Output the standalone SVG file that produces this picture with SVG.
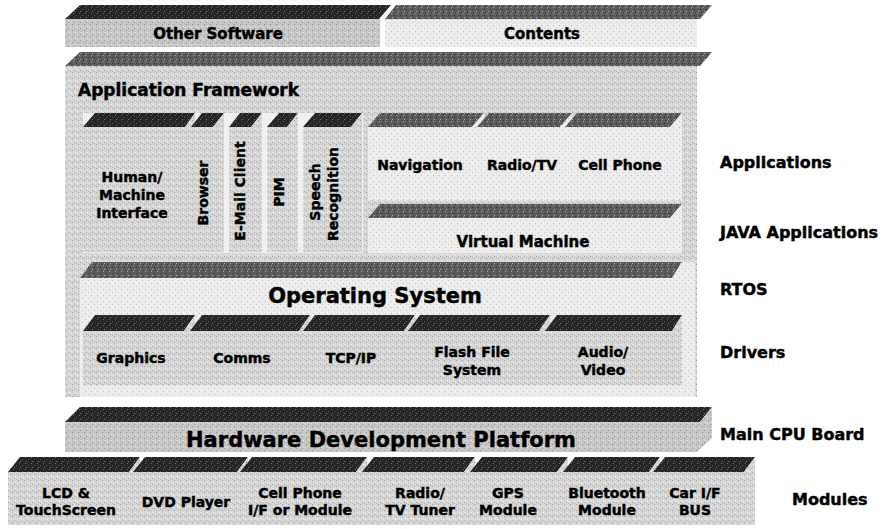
<svg xmlns="http://www.w3.org/2000/svg" width="890" height="529" viewBox="0 0 890 529">
<defs>
<pattern id="pf" width="6" height="6" patternUnits="userSpaceOnUse">
<rect width="6" height="6" fill="#d6d6d6"/>
<rect x="0" y="0" width="1" height="1" fill="#9c9c9c"/>
<rect x="3" y="2" width="1" height="1" fill="#f6f6f6"/>
<rect x="2" y="4" width="1" height="1" fill="#a8a8a8"/>
<rect x="5" y="3" width="1" height="1" fill="#f2f2f2"/>
<rect x="4" y="5" width="1" height="1" fill="#b4b4b4"/>
</pattern>
<pattern id="pl" width="6" height="6" patternUnits="userSpaceOnUse">
<rect width="6" height="6" fill="#ececec"/>
<rect x="1" y="1" width="1" height="1" fill="#b8b8b8"/>
<rect x="4" y="4" width="1" height="1" fill="#c4c4c4"/>
<rect x="3" y="0" width="1" height="1" fill="#fafafa"/>
</pattern>
<pattern id="pd" width="6" height="6" patternUnits="userSpaceOnUse">
<rect width="6" height="6" fill="#c6c6c6"/>
<rect x="0" y="0" width="1" height="1" fill="#8a8a8a"/>
<rect x="3" y="2" width="1" height="1" fill="#eeeeee"/>
<rect x="2" y="4" width="1" height="1" fill="#969696"/>
<rect x="5" y="3" width="1" height="1" fill="#e6e6e6"/>
</pattern>
<pattern id="pt" width="6" height="6" patternUnits="userSpaceOnUse">
<rect width="6" height="6" fill="#262626"/>
<rect x="1" y="1" width="1" height="1" fill="#6a6a6a"/>
<rect x="4" y="3" width="1" height="1" fill="#555555"/>
<rect x="2" y="5" width="1" height="1" fill="#7a7a7a"/>
</pattern>
<pattern id="pm" width="6" height="6" patternUnits="userSpaceOnUse">
<rect width="6" height="6" fill="#5c5c5c"/>
<rect x="1" y="1" width="1" height="1" fill="#a0a0a0"/>
<rect x="4" y="3" width="1" height="1" fill="#2a2a2a"/>
<rect x="2" y="5" width="1" height="1" fill="#b0b0b0"/>
<rect x="5" y="0" width="1" height="1" fill="#333333"/>
</pattern>
<style>
.tp{fill:url(#pt)}
.tm{fill:url(#pm)}
.ff{fill:url(#pf)}
.fl{fill:url(#pl)}
.fd{fill:url(#pd)}
text{font-family:"DejaVu Sans","Liberation Sans",sans-serif;font-weight:bold;fill:#000;stroke:#000;stroke-width:0.45px}
.c{text-anchor:middle}
.s14{font-size:14px}
.s15{font-size:15px}
.s16{font-size:16px}
.s17{font-size:17px}
.s21{font-size:21px}
</style>
</defs>
<rect width="890" height="529" fill="#ffffff"/>

<g id="other-software">
<polygon class="tp" points="80,5 391,5 379,19 65,19"/>
<rect class="fd" x="65" y="19" width="315" height="28"/>
<text class="c s15" x="218" y="39">Other Software</text>
</g>

<g id="contents">
<polygon class="tm" points="396,5 712,5 700,19 385,19"/>
<rect class="fl" x="385" y="19" width="312" height="28"/>
<text class="c s15" x="542" y="39">Contents</text>
</g>

<g id="application-framework">
<polygon class="tm" points="80,52 712,52 700,66 65,66"/>
<rect class="ff" x="65" y="66" width="632" height="331"/>
<rect fill="#f0f0f0" x="83" y="113" width="280" height="140"/>
<text class="s17" x="78" y="96">Application Framework</text>
</g>

<g id="hmi">
<polygon class="tp" points="95,113 195,113 185,127 83,127"/>
<polygon class="ff" points="83,127 185,127 195,113 195,252 83,252"/>
<text class="c s14" x="132" y="182">Human/</text>
<text class="c s14" x="132" y="200">Machine</text>
<text class="c s14" x="132" y="218">Interface</text>
</g>

<g id="browser">
<polygon class="tp" points="202,113 224,113 213,127 191,127"/>
<polygon class="ff" points="191,127 213,127 224,113 224,252 191,252"/>
<text class="c s14" transform="translate(208,193) rotate(-90)">Browser</text>
</g>

<g id="email">
<polygon class="tp" points="240,113 262,113 251,127 229,127"/>
<polygon class="ff" points="229,127 251,127 262,113 262,252 229,252"/>
<text class="c s14" transform="translate(245,191) rotate(-90)">E-Mail Client</text>
</g>

<g id="pim">
<polygon class="tp" points="279,113 298,113 287,127 267,127"/>
<polygon class="ff" points="267,127 287,127 298,113 298,252 267,252"/>
<text class="c s14" transform="translate(284,192) rotate(-90)">PIM</text>
</g>

<g id="speech">
<polygon class="tp" points="315,113 362,113 351,127 303,127"/>
<polygon class="ff" points="303,127 351,127 362,113 362,252 303,252"/>
<text class="c s14" transform="translate(320,192) rotate(-90)">Speech</text>
<text class="c s14" transform="translate(338,194) rotate(-90)">Recognition</text>
</g>

<g id="navigation">
<polygon class="tm" points="380,113 484,113 472,127 368,127"/>
<polygon class="fl" points="368,127 472,127 484,113 484,200 368,200"/>
<text class="c s14" x="420" y="170">Navigation</text>
</g>

<g id="radio-tv">
<polygon class="tm" points="489,113 572,113 560,127 477,127"/>
<polygon class="fl" points="477,127 560,127 572,113 572,200 477,200"/>
<text class="c s14" x="522" y="170">Radio/TV</text>
</g>

<g id="cell-phone">
<polygon class="tm" points="577,113 682,113 670,127 565,127"/>
<polygon class="fl" points="565,127 670,127 682,113 682,200 565,200"/>
<text class="c s14" x="620" y="170">Cell Phone</text>
</g>

<g id="virtual-machine">
<polygon class="tm" points="380,204 682,204 670,218 368,218"/>
<polygon class="fl" points="368,218 670,218 682,204 682,253 368,253"/>
<text class="c s15" x="523" y="247">Virtual Machine</text>
</g>

<g id="operating-system">
<polygon class="tm" points="92,262 682,262 672,278 80,278"/>
<polygon class="fl" points="80,278 672,278 682,262 695,262 695,397 80,397"/>
<text class="c s21" x="375" y="303">Operating System</text>
</g>

<g id="graphics">
<polygon class="tp" points="95,315 195,315 184,331 83,331"/>
<polygon class="ff" points="83,331 184,331 195,315 195,385 83,385"/>
<text class="c s14" x="131" y="363">Graphics</text>
</g>

<g id="comms">
<polygon class="tp" points="202,315 310,315 299,331 190,331"/>
<polygon class="ff" points="190,331 299,331 310,315 310,385 190,385"/>
<text class="c s14" x="242" y="363">Comms</text>
</g>

<g id="tcpip">
<polygon class="tp" points="315,315 415,315 404,331 303,331"/>
<polygon class="ff" points="303,331 404,331 415,315 415,385 303,385"/>
<text class="c s14" x="351" y="363">TCP/IP</text>
</g>

<g id="flash">
<polygon class="tp" points="420,315 550,315 539,331 408,331"/>
<polygon class="ff" points="408,331 539,331 550,315 550,385 408,385"/>
<text class="c s14" x="472" y="357">Flash File</text>
<text class="c s14" x="472" y="375">System</text>
</g>

<g id="audio-video">
<polygon class="tp" points="557,315 682,315 672,331 545,331"/>
<polygon class="ff" points="545,331 672,331 682,315 682,385 545,385"/>
<text class="c s14" x="603" y="357">Audio/</text>
<text class="c s14" x="603" y="375">Video</text>
</g>

<g id="hardware-platform">
<polygon class="tp" points="80,407 712,407 700,422 65,422"/>
<polygon class="fd" points="65,422 700,422 712,407 712,438 697,452 65,452"/>
<text class="c s21" x="381" y="447">Hardware Development Platform</text>
</g>

<g id="lcd">
<polygon class="tp" points="20,457 140,457 129,472 8,472"/>
<polygon class="ff" points="8,472 129,472 140,457 140,525 8,525"/>
<text class="c s14" x="66" y="498">LCD &amp;</text>
<text class="c s14" x="66" y="515">TouchScreen</text>
</g>

<g id="dvd">
<polygon class="tp" points="145,457 248,457 237,472 133,472"/>
<polygon class="ff" points="133,472 237,472 248,457 248,525 133,525"/>
<text class="c s14" x="186" y="507">DVD Player</text>
</g>

<g id="cell-module">
<polygon class="tp" points="252,457 367,457 356,472 240,472"/>
<polygon class="ff" points="240,472 356,472 367,457 367,525 240,525"/>
<text class="c s14" x="300" y="498">Cell Phone</text>
<text class="c s14" x="300" y="515">I/F or Module</text>
</g>

<g id="radio-tuner">
<polygon class="tp" points="374,457 475,457 464,472 362,472"/>
<polygon class="ff" points="362,472 464,472 475,457 475,525 362,525"/>
<text class="c s14" x="420" y="498">Radio/</text>
<text class="c s14" x="420" y="515">TV Tuner</text>
</g>

<g id="gps">
<polygon class="tp" points="482,457 568,457 557,472 470,472"/>
<polygon class="ff" points="470,472 557,472 568,457 568,525 470,525"/>
<text class="c s14" x="508" y="498">GPS</text>
<text class="c s14" x="508" y="515">Module</text>
</g>

<g id="bluetooth">
<polygon class="tp" points="575,457 660,457 649,472 563,472"/>
<polygon class="ff" points="563,472 649,472 660,457 660,525 563,525"/>
<text class="c s14" x="607" y="498">Bluetooth</text>
<text class="c s14" x="607" y="515">Module</text>
</g>

<g id="car-bus">
<polygon class="tp" points="665,457 755,457 744,472 653,472"/>
<polygon class="ff" points="653,472 744,472 755,457 755,525 653,525"/>
<text class="c s14" x="695" y="498">Car I/F</text>
<text class="c s14" x="695" y="515">BUS</text>
</g>

<g id="labels">
<text class="s16" x="720" y="168">Applications</text>
<text class="s16" x="720" y="238">JAVA Applications</text>
<text class="s16" x="720" y="295">RTOS</text>
<text class="s16" x="720" y="358">Drivers</text>
<text class="s16" x="720" y="440">Main CPU Board</text>
<text class="s16" x="792" y="505">Modules</text>
</g>
</svg>
